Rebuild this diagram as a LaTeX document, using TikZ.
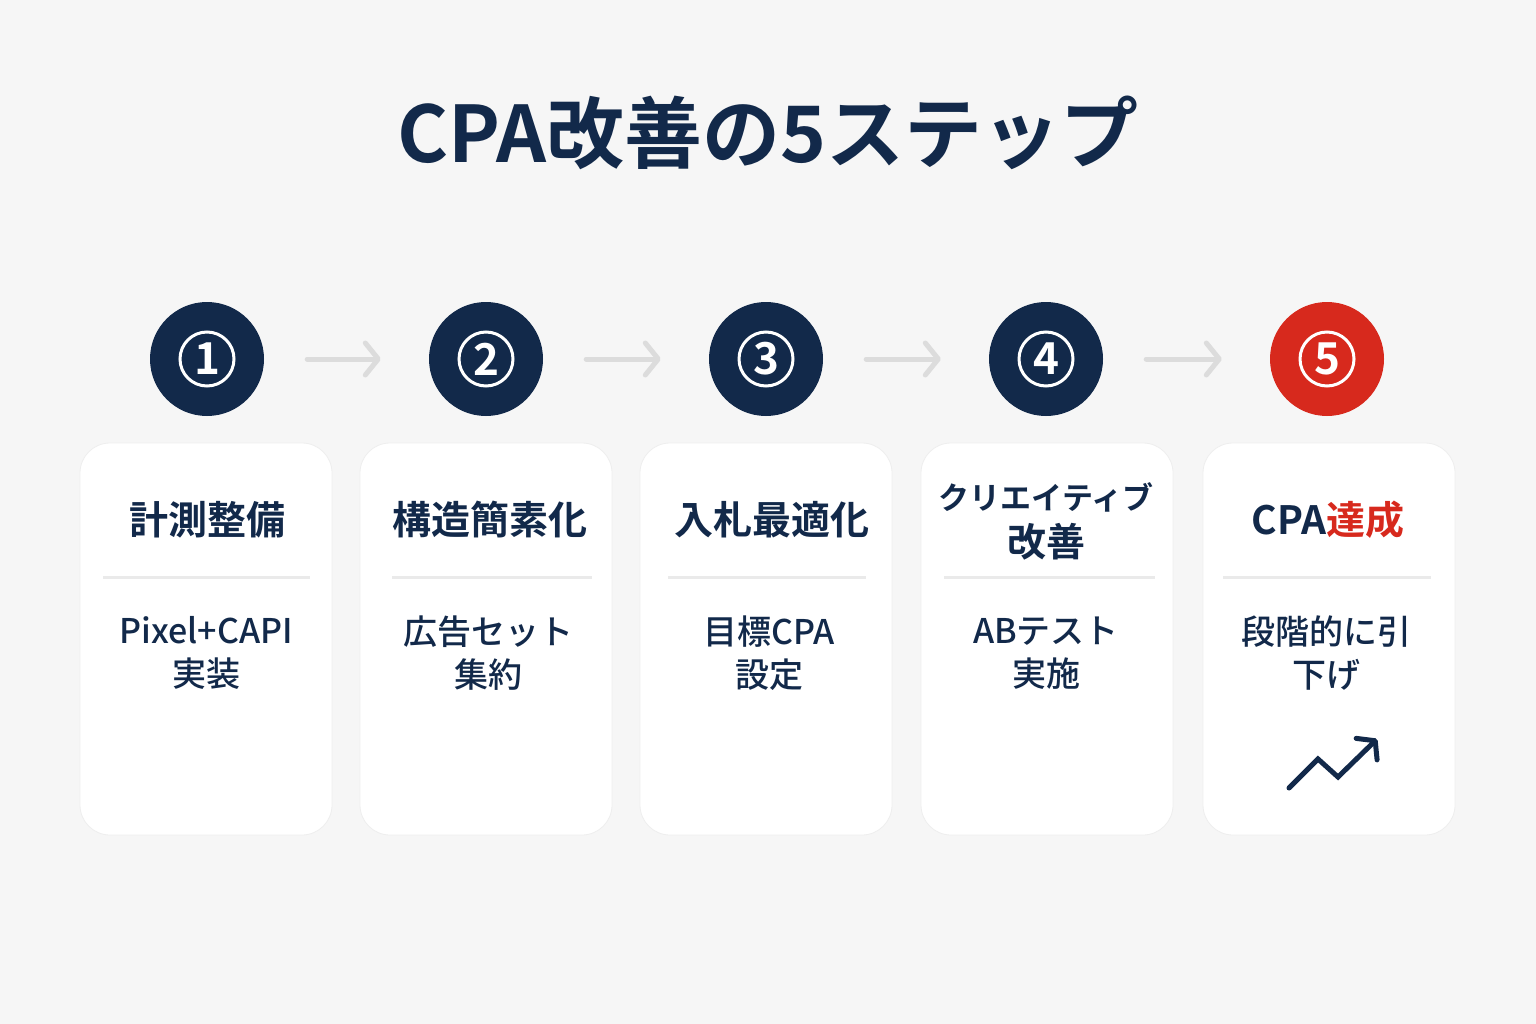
\documentclass[tikz,border=0pt]{standalone}
\usepackage{fontspec}
\newfontfamily\jp{Noto Sans CJK JP}[BoldFont={* Bold}]
\newfontfamily\jpm{Noto Sans CJK JP}[UprightFont={* Medium}]
\usetikzlibrary{arrows.meta}
\definecolor{bg}{HTML}{F6F6F6}
\definecolor{navy}{HTML}{12294A}
\definecolor{redc}{HTML}{D7291D}
\definecolor{arrg}{HTML}{DCDCDC}
\definecolor{divg}{HTML}{EAEAEA}
\definecolor{cardline}{HTML}{EEEEEE}
\tikzset{
  stepcirc/.style={circle, fill=navy, minimum size=114pt, inner sep=0pt},
  redcirc/.style={stepcirc, fill=redc},
  ring/.style={circle, draw=white, line width=3pt, minimum size=54pt, inner sep=0pt, text=white, font=\jp\bfseries\fontsize{44}{46}\selectfont},
  card/.style={rectangle, rounded corners=30pt, fill=white, draw=cardline, line width=0.8pt, minimum width=252pt, minimum height=392pt, inner sep=0pt},
  ttl/.style={text=navy, font=\jp\bfseries\fontsize{39}{46}\selectfont, align=center, inner sep=0pt},
  sub/.style={text=navy, font=\jpm\fontsize{34}{43}\selectfont, align=center, inner sep=0pt},
  div/.style={draw=divg, line width=3pt},
  flow/.style={draw=arrg, line width=5pt, line cap=round, -{Straight Barb[length=13pt,width=32pt,round]}},
}
\begin{document}
\begin{tikzpicture}[x=1pt,y=-1pt]
\fill[bg] (0,0) rectangle (1536,1024);
\useasboundingbox (0,0) rectangle (1536,1024);
% title
\node[text=navy, font=\jp\bfseries\fontsize{78}{84}\selectfont, inner sep=0pt] (title) at (768,133) {CPA改善の5ステップ};
% circles
\node[stepcirc] (c1) at (207,359) {};
\node[stepcirc] (c2) at (486,359) {};
\node[stepcirc] (c3) at (766,359) {};
\node[stepcirc] (c4) at (1046,359) {};
\node[redcirc] (c5) at (1327,359) {};
\node[ring] (r1) at (c1) {1};
\node[ring] (r2) at (c2) {2};
\node[ring] (r3) at (c3) {3};
\node[ring] (r4) at (c4) {4};
\node[ring] (r5) at (c5) {5};
% arrows
\draw[flow] ([xshift=43pt]c1.east) -- ([xshift=-48pt]c2.west);
\draw[flow] ([xshift=43pt]c2.east) -- ([xshift=-48pt]c3.west);
\draw[flow] ([xshift=43pt]c3.east) -- ([xshift=-48pt]c4.west);
\draw[flow] ([xshift=43pt]c4.east) -- ([xshift=-48pt]c5.west);
% cards
\node[card] (k1) at (206,639) {};
\node[card] (k2) at (486,639) {};
\node[card] (k3) at (766,639) {};
\node[card] (k4) at (1047,639) {};
\node[card] (k5) at (1329,639) {};
% titles
\node[ttl] (t1) at (207,520) {計測整備};
\node[ttl] (t2) at (490,520) {構造簡素化};
\node[ttl] (t3) at (772,520) {入札最適化};
\node[text=navy, font=\jp\bfseries\fontsize{31}{36}\selectfont, inner sep=0pt] (t4a) at (1046,497) {クリエイティブ};
\node[ttl] (t4b) at (1046,542) {改善};
\node[ttl] (t5) at (1328,520) {CPA\textcolor{redc}{達成}};
% dividers
\draw[div] (103,577) -- (310,577);
\draw[div] (392,577) -- (592,577);
\draw[div] (668,577) -- (866,577);
\draw[div] (944,577) -- (1155,577);
\draw[div] (1223,577) -- (1431,577);
% subtitles
\node[sub] (s1) at (206,653) {Pixel+CAPI\\実装};
\node[sub] (s2) at (488,653) {広告セット\\集約};
\node[sub] (s3) at (769,653) {目標CPA\\設定};
\node[sub] (s4) at (1046,653) {ABテスト\\実施};
\node[sub] (s5) at (1326,653) {段階的に引\\下げ};
% trend icon
\draw[navy, line width=5pt, line cap=round, line join=miter, -{Straight Barb[length=12pt,width=30pt,round]}]
  (1289,788) -- (1318,759) -- (1338,777) -- (1377,739);
\end{tikzpicture}
\end{document}
